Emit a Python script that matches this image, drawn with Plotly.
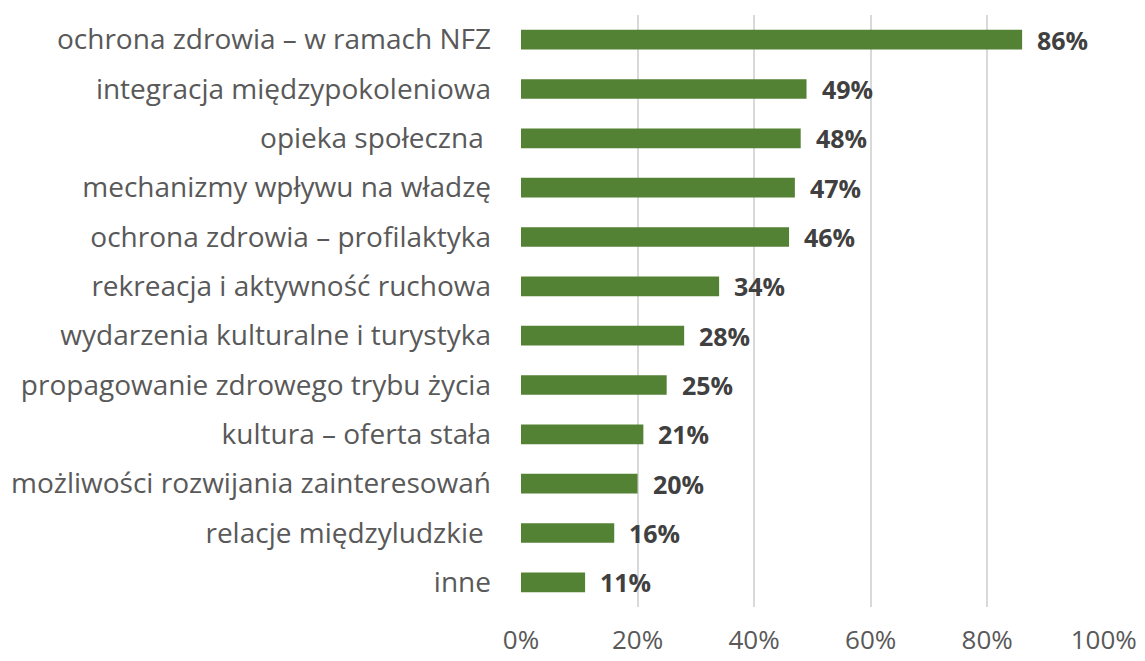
from plotly import graph_objects as go

categories = [
    "ochrona zdrowia – w ramach NFZ",
    "integracja międzypokoleniowa",
    "opieka społeczna ",
    "mechanizmy wpływu na władzę",
    "ochrona zdrowia – profilaktyka",
    "rekreacja i aktywność ruchowa",
    "wydarzenia kulturalne i turystyka",
    "propagowanie zdrowego trybu życia",
    "kultura – oferta stała",
    "możliwości rozwijania zainteresowań",
    "relacje międzyludzkie ",
    "inne",
]
values = [0.86, 0.49, 0.48, 0.47, 0.46, 0.34, 0.28, 0.25, 0.21, 0.20, 0.16, 0.11]
tick_values = [0, 0.2, 0.4, 0.6, 0.8, 1.0]
tick_labels = ["0%", "20%", "40%", "60%", "80%", "100%"]

FONT = "Open Sans"

fig = go.Figure()
fig.add_trace(
    go.Bar(
        x=values,
        y=categories,
        orientation="h",
        marker=dict(color="#548235", line=dict(width=0)),
        width=0.4,
        hoverinfo="skip",
    )
)

# value labels next to each bar
for cat, val in zip(categories, values):
    fig.add_annotation(
        x=val,
        y=cat,
        text=f"<b>{round(val * 100)}%</b>",
        showarrow=False,
        xanchor="left",
        xshift=13,
        font=dict(family=FONT, size=25, color="#404040"),
    )

# page body adds an 8px margin, so the figure is 8px smaller
fig.update_layout(
    width=1137,
    height=653,
    margin=dict(l=513, r=41, t=7, b=54),
    plot_bgcolor="white",
    paper_bgcolor="white",
    showlegend=False,
    bargap=0.6,
)

fig.update_xaxes(
    range=[0, 1.0005],
    tickvals=tick_values,
    ticktext=tick_labels,
    showgrid=True,
    gridcolor="#d9d9d9",
    gridwidth=1.5,
    zeroline=False,
    showline=False,
    automargin=False,
    ticklabelstandoff=15,
    tickfont=dict(family=FONT, size=26, color="#595959"),
)

fig.update_yaxes(
    autorange="reversed",
    showgrid=False,
    zeroline=False,
    showline=False,
    automargin=False,
    ticklabelstandoff=29,
    tickfont=dict(family=FONT, size=28, color="#595959"),
)

fig.write_html("out.html")
